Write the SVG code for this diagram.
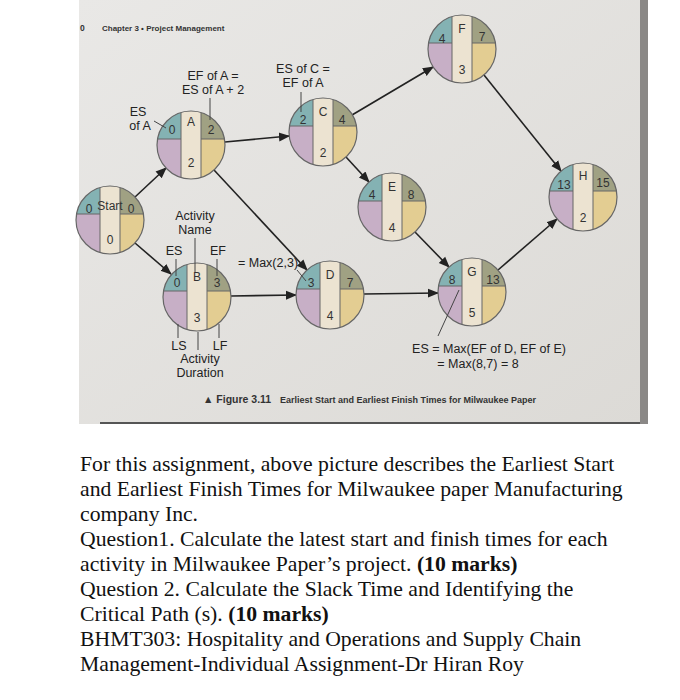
<svg xmlns="http://www.w3.org/2000/svg" xmlns:xlink="http://www.w3.org/1999/xlink" width="680" height="700" viewBox="0 0 680 700">
<style>
.t{font-family:"Liberation Sans",Arial,sans-serif;font-size:12.5px;fill:#222;text-anchor:middle}
.n{font-family:"Liberation Sans",Arial,sans-serif;font-size:12px;fill:#333;text-anchor:middle}
.ld{stroke:#444;stroke-width:1;fill:none}
.ar{stroke:#222;stroke-width:1.6;fill:none;marker-end:url(#ah)}
.q{font-family:"Liberation Serif","Times New Roman",serif;font-size:21.7px;fill:#111}
</style>
<defs>
<linearGradient id="pg" x1="0" y1="0" x2="1" y2="1">
<stop offset="0" stop-color="#e9e8e6"/><stop offset="1" stop-color="#dcdad6"/>
</linearGradient>
<marker id="ah" viewBox="0 0 10 10" refX="9" refY="5" markerWidth="7" markerHeight="7" orient="auto"><path d="M0,1 L10,5 L0,9 z" fill="#222"/></marker>
<clipPath id="cc"><circle r="34"/></clipPath>
<g id="node">
<g clip-path="url(#cc)">
<rect x="-34" y="-34" width="24" height="28" fill="#84b2b3"/>
<rect x="-34" y="-6" width="24" height="40" fill="#c7afc6"/>
<rect x="10" y="-34" width="24" height="28" fill="#a0a183"/>
<rect x="10" y="-6" width="24" height="40" fill="#e3cd92"/>
<rect x="-10" y="-34" width="20" height="68" fill="#ece3d1"/>
<path d="M-10,-34 V34 M10,-34 V34 M-34,-6 H-10 M10,-6 H34" stroke="#666" stroke-width="1"/>
</g>
<circle r="34" fill="none" stroke="#666" stroke-width="1.2"/>
</g>
</defs>
<rect width="680" height="700" fill="#fff"/>
<rect x="79" y="0" width="568" height="424" fill="url(#pg)"/>
<rect x="640" y="0" width="8" height="424" fill="#8a8886"/>
<line x1="100" y1="423" x2="640" y2="423" stroke="#555" stroke-width="2"/>
<text x="80" y="31" font-family="Liberation Sans,sans-serif" font-size="8.5" font-weight="bold" fill="#333">0</text>
<text x="102" y="31" font-family="Liberation Sans,sans-serif" font-size="8" font-weight="bold" fill="#333">Chapter 3  •  Project Management</text>

<g id="connectors">
<line class="ar" x1="135" y1="197" x2="166" y2="168"/>
<line class="ar" x1="135" y1="243" x2="171" y2="274"/>
<line class="ar" x1="225" y1="142" x2="289" y2="136"/>
<line class="ar" x1="214" y1="170" x2="307" y2="270"/>
<line class="ar" x1="231" y1="296" x2="296" y2="295"/>
<line class="ar" x1="352" y1="115" x2="433" y2="67"/>
<line class="ar" x1="346" y1="157" x2="369" y2="182"/>
<line class="ar" x1="415" y1="232" x2="449" y2="267"/>
<line class="ar" x1="364" y1="294" x2="438" y2="293"/>
<line class="ar" x1="484" y1="75" x2="561" y2="171"/>
<line class="ar" x1="498" y1="270" x2="557" y2="219"/>
</g>

<g id="nStart"><use xlink:href="#node" href="#node" transform="translate(110,220)"/>
<text class="n" x="110" y="210">Start</text><text class="n" x="89" y="213">0</text><text class="n" x="131" y="213">0</text><text class="n" x="110" y="244">0</text></g>
<g id="nA"><use xlink:href="#node" href="#node" transform="translate(191,145)"/>
<text class="n" x="191" y="126">A</text><text class="n" x="172" y="134">0</text><text class="n" x="211" y="134">2</text><text class="n" x="191" y="167">2</text></g>
<g id="nB"><use xlink:href="#node" href="#node" transform="translate(197,297)"/>
<text class="n" x="197" y="281">B</text><text class="n" x="177" y="287">0</text><text class="n" x="217" y="287">3</text><text class="n" x="197" y="322">3</text></g>
<g id="nC"><use xlink:href="#node" href="#node" transform="translate(323,132)"/>
<text class="n" x="323" y="116">C</text><text class="n" x="303" y="124">2</text><text class="n" x="342" y="124">4</text><text class="n" x="323" y="157">2</text></g>
<g id="nD"><use xlink:href="#node" href="#node" transform="translate(330,295)"/>
<text class="n" x="330" y="279">D</text><text class="n" x="311" y="287">3</text><text class="n" x="350" y="287">7</text><text class="n" x="330" y="320">4</text></g>
<g id="nE"><use xlink:href="#node" href="#node" transform="translate(392,207)"/>
<text class="n" x="392" y="191">E</text><text class="n" x="372" y="199">4</text><text class="n" x="411" y="199">8</text><text class="n" x="392" y="232">4</text></g>
<g id="nF"><use xlink:href="#node" href="#node" transform="translate(462,49)"/>
<text class="n" x="462" y="33">F</text><text class="n" x="442" y="43">4</text><text class="n" x="482" y="41">7</text><text class="n" x="462" y="74">3</text></g>
<g id="nG"><use xlink:href="#node" href="#node" transform="translate(472,292)"/>
<text class="n" x="472" y="276">G</text><text class="n" x="452" y="284">8</text><text class="n" x="493" y="284">13</text><text class="n" x="472" y="317">5</text></g>
<g id="nH"><use xlink:href="#node" href="#node" transform="translate(583,197)"/>
<text class="n" x="583" y="180">H</text><text class="n" x="564" y="189">13</text><text class="n" x="603" y="187">15</text><text class="n" x="583" y="222">2</text></g>

<g id="annotations">
<text class="t" x="213" y="80">EF of A =</text><text class="t" x="213" y="94">ES of A + 2</text>
<line class="ld" x1="210" y1="98" x2="210" y2="120"/>
<text class="t" x="303" y="73">ES of C =</text><text class="t" x="303" y="87">EF of A</text>
<line class="ld" x1="301" y1="92" x2="301" y2="112"/>
<text class="t" x="138" y="116">ES</text><text class="t" x="140" y="130">of A</text>
<line class="ld" x1="154" y1="121" x2="166" y2="128"/>
<text class="t" x="195" y="220">Activity</text><text class="t" x="195" y="234">Name</text>
<line class="ld" x1="195" y1="238" x2="195" y2="272"/>
<text class="t" x="174" y="255">ES</text><text class="t" x="218" y="255">EF</text>
<line class="ld" x1="176" y1="259" x2="176" y2="276"/><line class="ld" x1="217" y1="259" x2="217" y2="276"/>
<text class="t" x="268" y="267">= Max(2,3)</text>
<line class="ld" x1="297" y1="270" x2="306" y2="281"/>
<line class="ld" x1="178" y1="324" x2="178" y2="338"/><line class="ld" x1="219" y1="324" x2="219" y2="338"/><line class="ld" x1="198" y1="332" x2="198" y2="350"/>
<text class="t" x="179" y="350">LS</text><text class="t" x="220" y="350">LF</text>
<text class="t" x="200" y="363">Activity</text><text class="t" x="200" y="377">Duration</text>
<line class="ld" x1="459" y1="290" x2="438" y2="336"/>
<text class="t" x="489" y="353">ES = Max(EF of D, EF of E)</text>
<text class="t" x="478" y="368">= Max(8,7) = 8</text>
<text x="203" y="403" font-family="Liberation Sans,sans-serif" font-size="10.5" font-weight="bold" fill="#333">▲ Figure 3.11</text>
<text x="280" y="403" font-family="Liberation Sans,sans-serif" font-size="9" font-weight="bold" fill="#333">Earliest Start and Earliest Finish Times for Milwaukee Paper</text>
</g>

<g id="question">
<text class="q" x="80" y="471">For this assignment, above picture describes the Earliest Start</text>
<text class="q" x="80" y="496">and Earliest Finish Times for Milwaukee paper Manufacturing</text>
<text class="q" x="80" y="521">company Inc.</text>
<text class="q" x="80" y="546">Question1. Calculate the latest start and finish times for each</text>
<text class="q" x="80" y="571">activity in Milwaukee Paper’s project. <tspan font-weight="bold">(10 marks)</tspan></text>
<text class="q" x="80" y="596">Question 2. Calculate the Slack Time and Identifying the</text>
<text class="q" x="80" y="621">Critical Path (s). <tspan font-weight="bold">(10 marks)</tspan></text>
<text class="q" x="80" y="646">BHMT303: Hospitality and Operations and Supply Chain</text>
<text class="q" x="80" y="671">Management-Individual Assignment-Dr Hiran Roy</text>
</g>
</svg>
